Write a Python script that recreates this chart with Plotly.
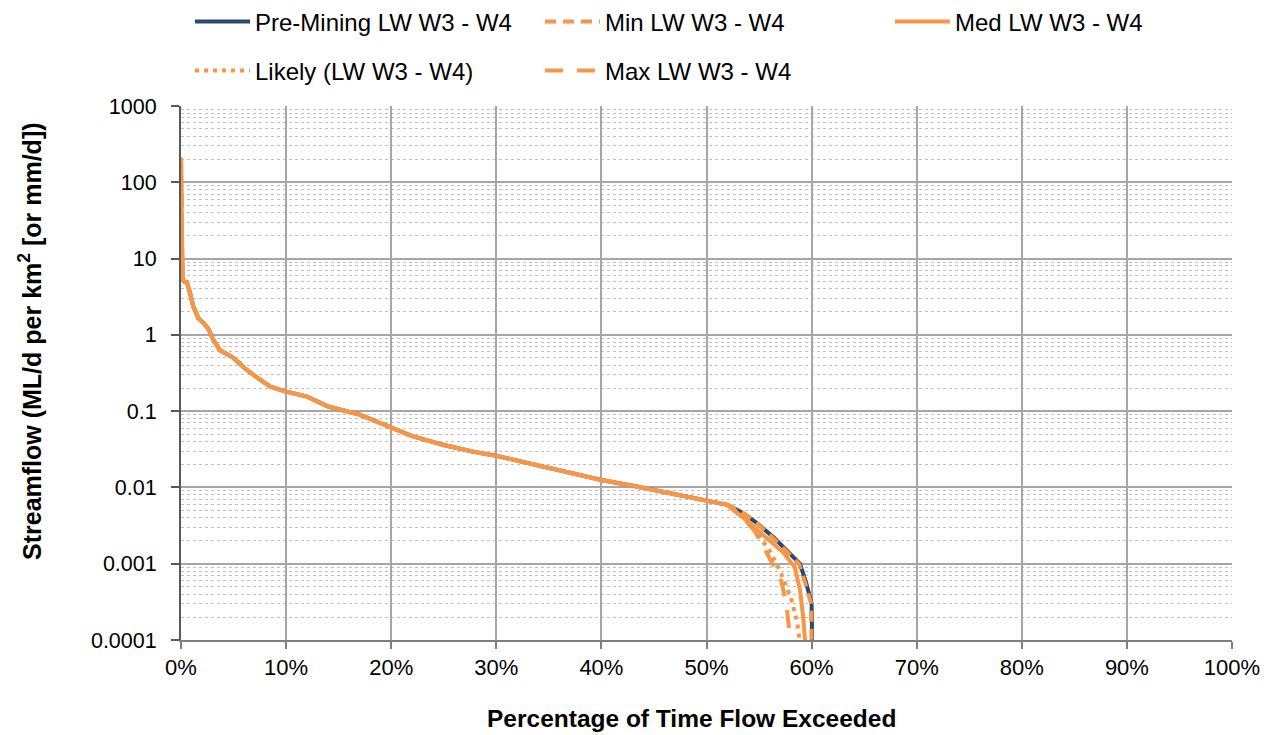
import plotly.graph_objects as go

# ---- data (percentage of time exceeded, streamflow) ----
x_head = [0, 0.03, 0.06, 0.1, 0.15]
pre_y_head = [32, 30, 25, 9.5, 5.3]
scen_y_head = [210, 68, 32, 9.5, 5.3]

x_common = [0.3, 0.55, 0.85, 1.15, 1.65, 2.1, 2.6, 3.1, 3.7, 4.3, 5, 6, 7, 7.5, 8.5,
            10, 12, 14, 17, 20, 22, 25, 28, 30, 33, 35, 38, 40, 43, 45, 47, 50, 52]
y_common = [5.0, 4.9, 3.6, 2.4, 1.65, 1.45, 1.2, 0.85, 0.63, 0.56, 0.5, 0.37, 0.29, 0.26, 0.21,
            0.18, 0.155, 0.115, 0.09, 0.06, 0.047, 0.036, 0.029, 0.026, 0.021, 0.018, 0.0145,
            0.0125, 0.0105, 0.0093, 0.0082, 0.0068, 0.0059]

pre_x_tail = [53.5, 54.8, 56.4, 57.6, 58.9, 59.5, 60.0, 60.05]
pre_y_tail = [0.0046, 0.0034, 0.0022, 0.0015, 0.001, 0.00055, 0.0003, 0.00009]

min_x_tail = [53.5, 54.8, 56.3, 57.5, 58.8, 59.4, 59.95, 60.0]
min_y_tail = [0.0046, 0.0034, 0.0022, 0.0015, 0.001, 0.00055, 0.0003, 0.00009]

med_x_tail = [53.8, 55.7, 57.3, 58.4, 58.9, 59.2, 59.4]
med_y_tail = [0.0037, 0.0022, 0.0014, 0.0009, 0.00045, 0.0002, 0.00009]

likely_x_tail = [53.2, 54.8, 56.0, 57.0, 58.0, 58.6, 58.9]
likely_y_tail = [0.0045, 0.0025, 0.0015, 0.0008, 0.00037, 0.00018, 0.00009]

max_x_tail = [53.0, 54.5, 55.4, 56.4, 57.1, 57.6, 58.0]
max_y_tail = [0.0045, 0.0028, 0.0017, 0.0009, 0.0006, 0.0003, 0.00009]

y_tickvals = [0.0001, 0.001, 0.01, 0.1, 1, 10, 100, 1000]
y_ticktext = ["0.0001", "0.001", "0.01", "0.1", "1", "10", "100", "1000"]
x_tickvals = [0, 10, 20, 30, 40, 50, 60, 70, 80, 90, 100]
x_ticktext = ["0%", "10%", "20%", "30%", "40%", "50%", "60%", "70%", "80%", "90%", "100%"]

BLUE = "#2A4A73"
ORANGE = "#F79646"
FONT = "Liberation Sans, Arial, sans-serif"

fig = go.Figure()

def add(name, xs, ys, color, dash, legend):
    fig.add_trace(go.Scatter(x=xs, y=ys, mode="lines", name=name, showlegend=True,
                             line=dict(color=color, width=4, dash=dash),
                             legend=legend))

add("Pre-Mining LW W3 - W4", x_head + x_common + pre_x_tail,
    pre_y_head + y_common + pre_y_tail, BLUE, "solid", "legend")
add("Min LW W3 - W4", x_head + x_common + min_x_tail,
    scen_y_head + y_common + min_y_tail, ORANGE, "11px,7px", "legend2")
add("Med LW W3 - W4", x_head + x_common + med_x_tail,
    scen_y_head + y_common + med_y_tail, ORANGE, "solid", "legend3")
add("Likely (LW W3 - W4)", x_head + x_common + likely_x_tail,
    scen_y_head + y_common + likely_y_tail, ORANGE, "4px,5px", "legend4")
add("Max LW W3 - W4", x_head + x_common + max_x_tail,
    scen_y_head + y_common + max_y_tail, ORANGE, "18px,14px", "legend5")

def leg(xpx, ypx):
    return dict(orientation="h", xref="container", yref="container",
                x=xpx / 1273, y=1 - ypx / 735, xanchor="left", yanchor="middle",
                font=dict(family=FONT, size=24, color="#000000"),
                bgcolor="rgba(0,0,0,0)", itemwidth=55, visible=True)

fig.update_layout(
    width=1273, height=735,
    showlegend=True,
    margin=dict(l=181, r=41, t=106, b=95, autoexpand=False),
    paper_bgcolor="white", plot_bgcolor="white",
    font=dict(family=FONT, color="#000000"),
    legend=leg(190, 22),
    legend2=leg(540, 22),
    legend3=leg(890, 22),
    legend4=leg(190, 71),
    legend5=leg(540, 71),
    xaxis=dict(range=[0, 100], tickvals=x_tickvals, ticktext=x_ticktext,
               showgrid=True, gridcolor="#A6A6A6", gridwidth=2,
               showline=True, linecolor="#7F7F7F", linewidth=2,
               ticks="outside", ticklen=7, tickcolor="#7F7F7F", tickwidth=1.5,
               tickfont=dict(size=22, family=FONT, color="#000000"),
               zeroline=False, automargin=False),
    yaxis=dict(type="log", range=[-4, 3], tickvals=y_tickvals, ticktext=y_ticktext,
               showgrid=True, gridcolor="#A6A6A6", gridwidth=2,
               showline=True, linecolor="#595959", linewidth=2,
               ticks="outside", ticklen=8, tickcolor="#595959", tickwidth=1.5,
               tickfont=dict(size=21.5, family=FONT, color="#000000"),
               ticklabelstandoff=10,
               minor=dict(showgrid=True, gridcolor="#BFBFBF", gridwidth=1,
                          griddash="dot", ticks="", dtick="D1"),
               zeroline=False, automargin=False),
    annotations=[
        dict(text="<b>Percentage of Time Flow Exceeded</b>", xref="paper", yref="paper",
             x=(691 - 181) / 1051, y=(640 - 718) / 534, xanchor="center", yanchor="middle",
             showarrow=False, font=dict(size=24.5, family=FONT, color="#000000")),
        dict(text="<b>Streamflow (ML/d per km<sup>2</sup> [or mm/d])</b>", xref="paper",
             yref="paper", x=(30 - 181) / 1051, y=(640 - 341) / 534, textangle=-90,
             xanchor="center", yanchor="middle", showarrow=False,
             font=dict(size=25, family=FONT, color="#000000")),
    ],
)

fig.write_html("out.html")
